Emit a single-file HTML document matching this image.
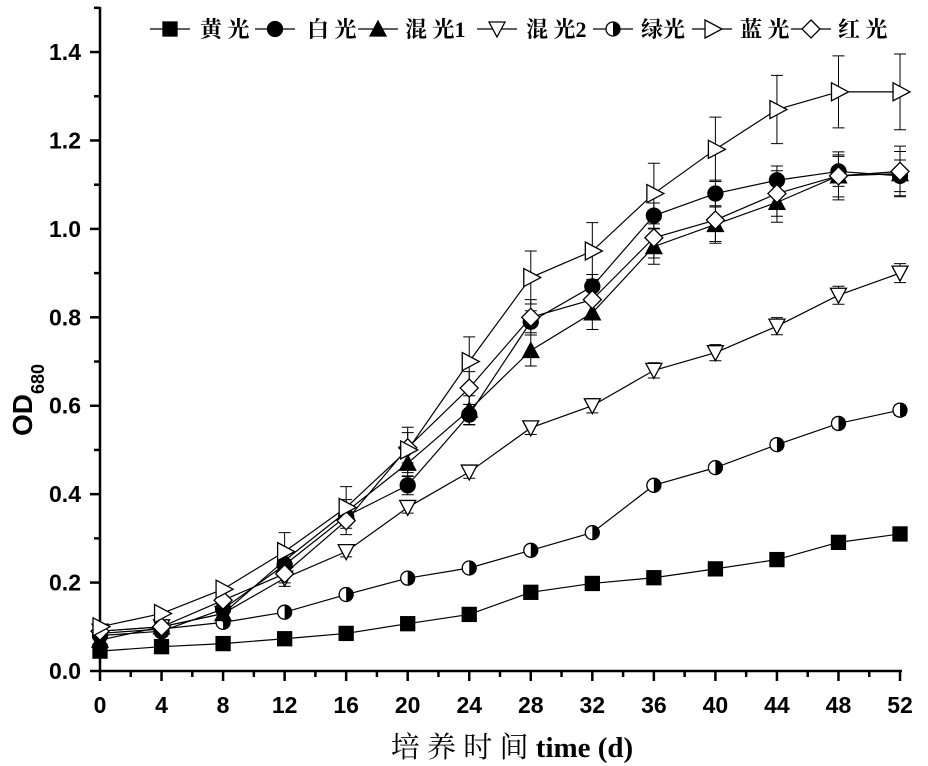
<!DOCTYPE html>
<html><head><meta charset="utf-8"><style>
html,body{margin:0;padding:0;background:#fff;}
svg{display:block;}
</style></head><body>
<svg id="s" width="928" height="766" xmlns="http://www.w3.org/2000/svg">
<g stroke="#000" stroke-width="2.5" fill="none">
<line x1="100" y1="7" x2="100" y2="672"/>
<line x1="99" y1="671" x2="902" y2="671"/>
</g>
<g id="ticks" stroke="#000" stroke-width="2.5"></g>
<g font-family="Liberation Sans, sans-serif" font-weight="bold" font-size="23" fill="#000" id="lbl"></g>
<text x="0" y="0" transform="translate(32,400) rotate(-90)" font-family="Liberation Sans, sans-serif" font-weight="bold" font-size="28" text-anchor="middle">OD<tspan font-size="18" dy="12">680</tspan></text>
<text x="512" y="757" font-family="Liberation Serif, 'Noto Serif CJK SC', serif" font-size="29" text-anchor="middle">培 养 时 间 <tspan font-weight="bold">time (d)</tspan></text>
<g id="data"></g>
<g id="leg" font-family="Liberation Serif, 'Noto Serif CJK SC', serif" font-size="22" font-weight="bold"></g>
</svg>
<script>
const NS="http://www.w3.org/2000/svg";
function el(p,t,a,txt){const e=document.createElementNS(NS,t);for(const k in a)e.setAttribute(k,a[k]);if(txt!=null)e.textContent=txt;p.appendChild(e);return e;}
const X=d=>100+d*15.385, Y=v=>671-v*442.1;
const tk=document.getElementById('ticks'), lb=document.getElementById('lbl');
for(let d=0;d<=52;d+=2){const maj=d%4==0;el(tk,'line',{x1:X(d),x2:X(d),y1:671,y2:maj?681:677});if(maj)el(lb,'text',{x:X(d),y:713,'text-anchor':'middle'},String(d));}
for(let i=0;i<=15;i++){const v=i*0.1;const y=Y(v);if(y<5)continue;const maj=i%2==0;el(tk,'line',{x1:maj?90:94,x2:100,y1:y,y2:y});if(maj)el(lb,'text',{x:81,y:y+8,'text-anchor':'end'},v.toFixed(1));}
const days=[0,4,8,12,16,20,24,28,32,36,40,44,48,52];
const S=[
{m:'sq',v:[.045,.055,.062,.073,.085,.107,.128,.178,.198,.211,.231,.252,.291,.31],e:0},
{m:'half',v:[.085,.095,.11,.133,.173,.21,.233,.273,.313,.42,.46,.512,.56,.59],e:.008},
{m:'dt',v:[.09,.1,.13,.21,.27,.37,.45,.55,.60,.68,.72,.78,.85,.90],e:.015},
{m:'ut',v:[.07,.1,.13,.25,.36,.47,.59,.725,.81,.96,1.01,1.06,1.12,1.125],e:.035},
{m:'ci',v:[.08,.09,.14,.24,.35,.42,.58,.79,.87,1.03,1.08,1.11,1.13,1.12],e:.025},
{m:'di',v:[.09,.1,.16,.22,.34,.505,.64,.80,.84,.98,1.02,1.08,1.12,1.13],e:.04},
{m:'rt',v:[.1,.13,.185,.27,.37,.50,.70,.89,.95,1.08,1.18,1.27,1.31,1.31],e:.06}];
const D=document.getElementById('data');
function mk(g,m,x,y){const a={stroke:'#000','stroke-width':1.3};
 if(m=='sq')el(g,'rect',Object.assign({x:x-7,y:y-7,width:14,height:14,fill:'#000'},a));
 if(m=='ci')el(g,'circle',Object.assign({cx:x,cy:y,r:7.5,fill:'#000'},a));
 if(m=='ut')el(g,'polygon',Object.assign({points:`${x},${y-8} ${x+8},${y+7} ${x-8},${y+7}`,fill:'#000'},a));
 if(m=='dt')el(g,'polygon',Object.assign({points:`${x},${y+8} ${x+8},${y-7} ${x-8},${y-7}`,fill:'#fff'},a));
 if(m=='rt')el(g,'polygon',Object.assign({points:`${x-7},${y-9} ${x+10},${y} ${x-7},${y+9}`,fill:'#fff'},a));
 if(m=='di')el(g,'polygon',Object.assign({points:`${x},${y-9} ${x+9},${y} ${x},${y+9} ${x-9},${y}`,fill:'#fff'},a));
 if(m=='half'){el(g,'circle',Object.assign({cx:x,cy:y,r:7,fill:'#fff'},a));el(g,'path',{d:`M${x},${y-7} A7,7 0 0 1 ${x},${y+7} Z`,fill:'#000'});}
}
S.forEach(s=>{const pts=days.map((d,i)=>X(d)+','+Y(s.v[i])).join(' ');
 el(D,'polyline',{points:pts,fill:'none',stroke:'#000','stroke-width':1.2});
 if(s.e)days.forEach((d,i)=>{if(i<3)return;const e=s.e*(0.5+i/14);const x=X(d),y1=Y(s.v[i]+e),y2=Y(s.v[i]-e);
  el(D,'path',{d:`M${x},${y1}V${y2}M${x-6},${y1}H${x+6}M${x-6},${y2}H${x+6}`,stroke:'#000','stroke-width':1,fill:'none'});});
});
S.forEach(s=>days.forEach((d,i)=>mk(D,s.m,X(d),Y(s.v[i]))));
const L=document.getElementById('leg');
const items=[['sq',170,'黄 光',200],['ci',275,'白 光',307],['ut',378,'混 光1',405],['dt',497,'混 光2',526],['half',613,'绿光',641],['rt',712,'蓝 光',740],['di',811,'红 光',838]];
items.forEach(([m,x,t,tx])=>{el(L,'line',{x1:x-20,x2:x+20,y1:29,y2:29,stroke:'#000','stroke-width':1.2});mk(L,m,x,29);el(L,'text',{x:tx,y:37},t);});
</script>
</body></html>
